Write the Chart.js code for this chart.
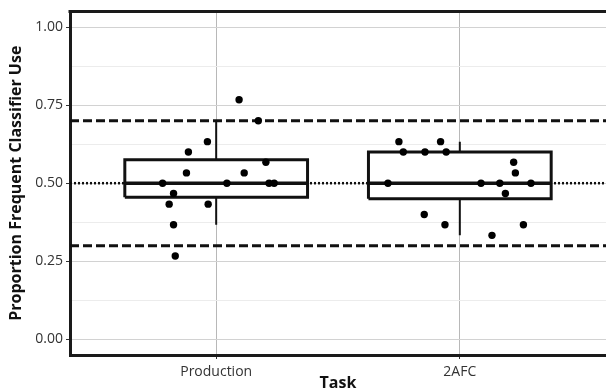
<!DOCTYPE html>
<html>
<head>
<meta charset="utf-8">
<script src="https://cdn.jsdelivr.net/npm/chart.js@4/dist/chart.umd.min.js"></script>
<style>
  html, body { margin: 0; padding: 0; background: #fff; }
  #wrap { width: 606px; height: 389px; }
</style>
</head>
<body>
<div id="wrap"><canvas id="chart"></canvas></div>
<script>
// categories and box summaries
const tasks = ["Production", "2AFC"];
const boxQ1 = [0.455, 0.45];
const boxMedian = [0.5, 0.5];
const boxQ3 = [0.575, 0.6];
const whiskerLow = [0.367, 0.333];
const whiskerHigh = [0.7, 0.633];

// individual participants (jitter is horizontal offset in category units)
const productionY = [0.767, 0.7, 0.633, 0.6, 0.567, 0.533, 0.533, 0.5, 0.5, 0.5, 0.5, 0.467, 0.433, 0.433, 0.367, 0.267];
const productionJitter = [0.094, 0.173, -0.036, -0.114, 0.204, -0.122, 0.115, -0.22, 0.044, 0.217, 0.238, -0.175, -0.193, -0.033, -0.175, -0.168];
const afcY = [0.633, 0.633, 0.6, 0.6, 0.6, 0.567, 0.533, 0.5, 0.5, 0.5, 0.5, 0.467, 0.4, 0.367, 0.367, 0.333];
const afcJitter = [-0.25, -0.079, -0.232, -0.143, -0.056, 0.221, 0.228, -0.295, 0.087, 0.164, 0.292, 0.187, -0.146, -0.061, 0.261, 0.132];

// reference lines and ticks
const dashedLevels = [0.3, 0.7];
const dottedLevels = [0.5];
const yTicks = [0, 0.125, 0.25, 0.375, 0.5, 0.625, 0.75, 0.875, 1];
const yMajor = [0, 0.25, 0.5, 0.75, 1];

const boxHalf = 0.375;
const xMin = 0.4, xMax = 2.6;
const fontFamily = "'Open Sans', 'DejaVu Sans', sans-serif";

const datasets = [];

// points on top
const pointData = [];
productionY.forEach((v, i) => pointData.push({ x: 1 + productionJitter[i], y: v }));
afcY.forEach((v, i) => pointData.push({ x: 2 + afcJitter[i], y: v }));
datasets.push({
  type: "scatter",
  data: pointData,
  pointRadius: 3.7,
  pointBackgroundColor: "#000",
  pointBorderWidth: 0,
  order: 0,
});

tasks.forEach((t, i) => {
  const c = i + 1;
  // box
  datasets.push({
    type: "line",
    data: [
      { x: c - boxHalf, y: boxQ1[i] },
      { x: c - boxHalf, y: boxQ3[i] },
      { x: c + boxHalf, y: boxQ3[i] },
      { x: c + boxHalf, y: boxQ1[i] },
      { x: c - boxHalf, y: boxQ1[i] },
    ],
    borderColor: "#111",
    borderWidth: 3,
    backgroundColor: "#fff",
    fill: "shape",
    pointRadius: 0,
    tension: 0,
    order: 2,
  });
  // median
  datasets.push({
    type: "line",
    data: [{ x: c - boxHalf, y: boxMedian[i] }, { x: c + boxHalf, y: boxMedian[i] }],
    borderColor: "#111",
    borderWidth: 3.5,
    pointRadius: 0,
    order: 1,
  });
  // whiskers
  datasets.push({
    type: "line",
    data: [{ x: c, y: boxQ3[i] }, { x: c, y: whiskerHigh[i] }],
    borderColor: "#111",
    borderWidth: 2,
    pointRadius: 0,
    order: 1,
  });
  datasets.push({
    type: "line",
    data: [{ x: c, y: boxQ1[i] }, { x: c, y: whiskerLow[i] }],
    borderColor: "#111",
    borderWidth: 2,
    pointRadius: 0,
    order: 1,
  });
});

dashedLevels.forEach((lv) => {
  datasets.push({
    type: "line",
    data: [{ x: xMin, y: lv }, { x: xMax, y: lv }],
    borderColor: "#111",
    borderWidth: 3,
    borderDash: [9, 4],
    pointRadius: 0,
    order: 3,
  });
});
dottedLevels.forEach((lv) => {
  datasets.push({
    type: "line",
    data: [{ x: xMin, y: lv }, { x: xMax, y: lv }],
    borderColor: "#111",
    borderWidth: 2.5,
    borderDash: [2, 2],
    pointRadius: 0,
    order: 3,
  });
});

// top edge of the panel frame
const frameTop = {
  id: "frameTop",
  afterDraw(chart) {
    const { ctx, chartArea } = chart;
    ctx.save();
    ctx.strokeStyle = "#1a1a1a";
    ctx.lineWidth = 3;
    ctx.beginPath();
    ctx.moveTo(chartArea.left - 1.5, chartArea.top);
    ctx.lineTo(chartArea.right, chartArea.top);
    ctx.stroke();
    ctx.restore();
  },
};

new Chart(document.getElementById("chart"), {
  type: "scatter",
  data: { datasets },
  plugins: [frameTop],
  options: {
    responsive: true,
    maintainAspectRatio: false,
    animation: false,
    layout: { autoPadding: false, padding: { top: 10, left: 0, right: 0, bottom: 0 } },
    plugins: { legend: { display: false }, tooltip: { enabled: false } },
    scales: {
      x: {
        type: "linear",
        min: xMin,
        max: xMax,
        afterBuildTicks: (scale) => {
          scale.ticks = tasks.map((t, i) => ({ value: i + 1 }));
        },
        afterFit: (scale) => { scale.height = 34; },
        ticks: {
          callback: (v) => tasks[Math.round(v) - 1],
          color: "#333",
          font: { family: fontFamily, size: 14 },
          padding: 5,
          maxRotation: 0,
        },
        grid: { color: "#b8b8b8", lineWidth: 1, tickLength: 4, tickColor: "#333" },
        border: { color: "#1a1a1a", width: 3 },
        title: {
          display: true,
          text: "Task",
          color: "#111",
          font: { family: fontFamily, size: 16, weight: "bold", lineHeight: 1 },
          padding: { top: 0, bottom: -2 },
        },
      },
      y: {
        min: -0.05,
        max: 1.05,
        afterBuildTicks: (scale) => {
          scale.ticks = yTicks.map((v) => ({ value: v }));
        },
        afterFit: (scale) => { scale.width = 70; },
        ticks: {
          callback: (v) => (yMajor.includes(v) ? v.toFixed(2) : ""),
          color: "#333",
          font: { family: fontFamily, size: 14 },
          padding: 3,
        },
        grid: {
          color: (ctx) => (ctx.tick && yMajor.includes(ctx.tick.value) ? "#d2d2d2" : "#ececec"),
          tickColor: (ctx) => (ctx.tick && yMajor.includes(ctx.tick.value) ? "#333" : "rgba(0,0,0,0)"),
          lineWidth: 1,
          tickLength: 4,
        },
        border: { color: "#1a1a1a", width: 3 },
        title: {
          display: true,
          text: "Proportion Frequent Classifier Use",
          color: "#111",
          font: { family: fontFamily, size: 16, weight: "bold", lineHeight: 1.2 },
          padding: { top: 7, bottom: 0 },
        },
      },
    },
  },
});
</script>
</body>
</html>
